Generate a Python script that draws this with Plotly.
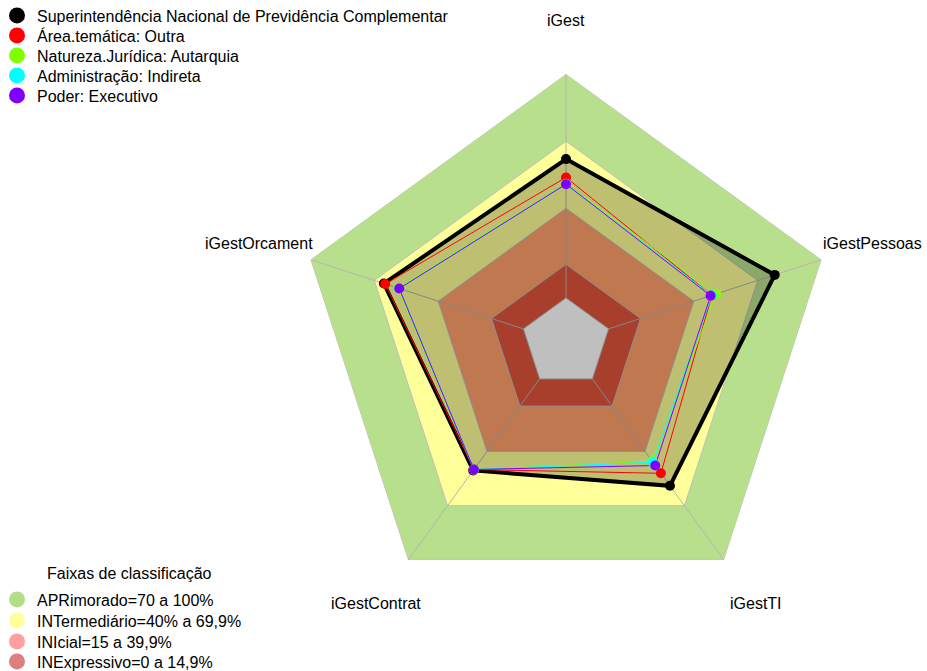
import math
import plotly.graph_objects as go

# ---- data ----
categories = ["iGest", "iGestPessoas", "iGestTI", "iGestContrat", "iGestOrcament"]

series_names = [
    "Superintendência Nacional de Previdência Complementar",
    "Área.temática: Outra",
    "Natureza.Jurídica: Autarquia",
    "Administração: Indireta",
    "Poder: Executivo",
]
sup_values = [62.0, 78.0, 59.0, 50.5, 65.5]
area_values = [53.8, 48.5, 52.1, 50.0, 64.9]
natureza_values = [51.0, 50.5, 45.5, 50.0, 59.0]
admin_values = [50.8, 48.5, 46.0, 50.0, 58.3]
poder_values = [50.8, 47.9, 47.8, 50.0, 58.3]
series_values = [sup_values, area_values, natureza_values, admin_values, poder_values]
series_colors = ["#000000", "#FF0000", "#80FF00", "#00FFFF", "#8000FF"]

band_title = "Faixas de classificação"
band_names = [
    "APRimorado=70 a 100%",
    "INTermediário=40% a 69,9%",
    "INIcial=15 a 39,9%",
    "INExpressivo=0 a 14,9%",
]
band_upper = [100, 70, 40, 15]
band_lower_min = 0
band_fill = ["#B8E08C", "#FFFF99", "#FFA06B", "#E0553B"]
band_legend_colors = ["#B3DE86", "#FFFF99", "#FF9F9F", "#DB7F7F"]

radial_min = -20
radial_max = 100

FONT = "Liberation Sans, Arial, sans-serif"
W, H = 927, 671

# layout geometry (pixels)
CX, CY, RAD = 566.0, 342.7, 268.7
LABEL_FACTOR = 1.2
series_legend_y = [15, 35, 55, 75, 95]
band_legend_y = [599, 620, 641, 661]
band_title_pos = (129, 573)
legend_marker_x = 17
LEG_MARKER_DX = 20     # marker centre offset from legend box left
LEG_ITEM_DY = 16.5     # item centre offset from legend box top

fig = go.Figure()

def closed(vals):
    return list(vals) + [vals[0]]

theta_closed = closed(categories)

# classification bands (drawn from the outside in)
for upper, col in zip(band_upper, band_fill):
    fig.add_trace(go.Scatterpolar(
        r=closed([upper] * len(categories)), theta=theta_closed,
        mode="lines", fill="toself", fillcolor=col,
        line=dict(color="#BEBEBE", width=1),
        showlegend=False, hoverinfo="skip"))

# blank center (below 0)
fig.add_trace(go.Scatterpolar(
    r=closed([band_lower_min] * len(categories)), theta=theta_closed,
    mode="lines", fill="toself", fillcolor="#FFFFFF",
    line=dict(color="#BEBEBE", width=1),
    showlegend=False, hoverinfo="skip"))

# spokes
spoke_r, spoke_t = [], []
for c in categories:
    spoke_r += [band_lower_min, radial_max, None]
    spoke_t += [c, c, None]
fig.add_trace(go.Scatterpolar(
    r=spoke_r, theta=spoke_t, mode="lines",
    line=dict(color="#B4B4B4", width=1), connectgaps=False,
    showlegend=False, hoverinfo="skip"))

# series
for i, (name, vals, col) in enumerate(zip(series_names, series_values, series_colors)):
    kw = {}
    if i == 0:
        kw = dict(fill="toself", fillcolor="rgba(0,0,0,0.25)")
    fig.add_trace(go.Scatterpolar(
        r=closed(vals), theta=theta_closed, mode="lines",
        line=dict(color=col, width=4 if i == 0 else 1),
        showlegend=False, name=name, **kw))
for name, vals, col in zip(series_names, series_values, series_colors):
    fig.add_trace(go.Scatterpolar(
        r=vals, theta=categories, mode="markers",
        marker=dict(color=col, size=10),
        showlegend=False, name=name))

# legends: one legend box per entry so spacing can match
legends = {}
leg_idx = 0

def legend_key(i):
    return "legend" if i == 0 else f"legend{i + 1}"

def add_legend_entry(name, col, center_y):
    global leg_idx
    key = legend_key(leg_idx)
    leg_idx += 1
    fig.add_trace(go.Scatterpolar(
        r=[None], theta=[None], mode="markers",
        marker=dict(color=col, size=16), name=name,
        showlegend=True, legend=key))
    legends[key] = dict(
        x=(legend_marker_x - LEG_MARKER_DX) / W,
        y=1 - (center_y - LEG_ITEM_DY) / H,
        xanchor="left", yanchor="top",
        bgcolor="rgba(0,0,0,0)", font=dict(family=FONT, size=16, color="#000000"),
        itemsizing="trace")

for name, col, yy in zip(series_names, series_colors, series_legend_y):
    add_legend_entry(name, col, yy)
for name, col, yy in zip(band_names, band_legend_colors, band_legend_y):
    add_legend_entry(name, col, yy)

# axis labels as annotations around the polygon
annotations = []
n = len(categories)
for i, c in enumerate(categories):
    ang = math.radians(90 - 360.0 * i / n)
    px = CX + LABEL_FACTOR * RAD * math.cos(ang)
    py = CY - LABEL_FACTOR * RAD * math.sin(ang)
    annotations.append(dict(
        x=px / W, y=1 - py / H, xref="paper", yref="paper",
        text=c, showarrow=False, xanchor="center", yanchor="middle",
        font=dict(family=FONT, size=16, color="#000000")))
annotations.append(dict(
    x=band_title_pos[0] / W, y=1 - band_title_pos[1] / H, xref="paper", yref="paper",
    text=band_title, showarrow=False, xanchor="center", yanchor="middle",
    font=dict(family=FONT, size=16, color="#000000")))

dom_x = [(CX - RAD) / W, (CX + RAD) / W]
dom_y = [1 - (CY + RAD) / H, 1 - (CY - RAD) / H]

fig.update_layout(
    width=W, height=H,
    margin=dict(l=0, r=0, t=0, b=0, autoexpand=False),
    paper_bgcolor="white",
    font=dict(family=FONT, size=16, color="#000000"),
    annotations=annotations,
    polar=dict(
        domain=dict(x=dom_x, y=dom_y),
        gridshape="linear",
        bgcolor="white",
        radialaxis=dict(range=[radial_min, radial_max], visible=False,
                        showgrid=False, showline=False, showticklabels=False),
        angularaxis=dict(direction="clockwise", rotation=90,
                         showgrid=False, showline=False, showticklabels=False,
                         ticks="", categoryorder="array", categoryarray=categories),
    ),
    **legends,
)

fig.write_html(
    "out.html",
    config={"displayModeBar": False},
    post_script="document.body.style.margin='0px';document.body.style.overflow='hidden';",
)
